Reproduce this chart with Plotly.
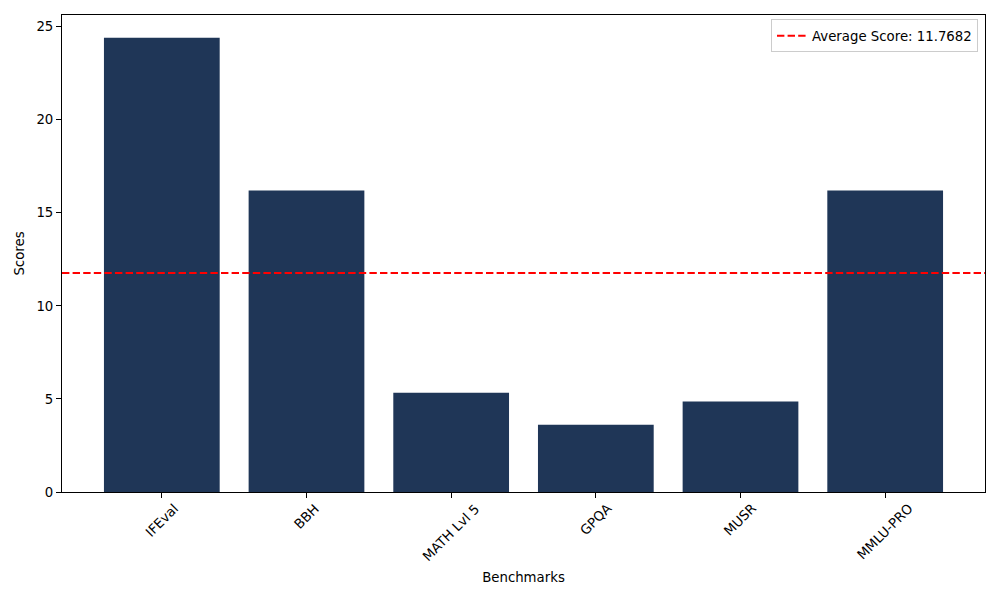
import plotly.graph_objects as go

benchmarks = ["IFEval", "BBH", "MATH Lvl 5", "GPQA", "MUSR", "MMLU-PRO"]
scores = [24.41, 16.20, 5.33, 3.61, 4.86, 16.20]
average_score = 11.7682
y_ticks = [0, 5, 10, 15, 20, 25]

FONT = "DejaVu Sans"
FS = 13.3

fig = go.Figure()
fig.add_trace(go.Bar(
    x=list(range(len(benchmarks))), y=scores,
    marker=dict(color="#1f3657", line=dict(width=0)),
    width=0.8, showlegend=False,
))

fig.add_shape(
    type="line", xref="paper", yref="y", x0=0, x1=1,
    y0=average_score, y1=average_score,
    line=dict(color="red", width=2, dash="7.4px,3.2px"),
    showlegend=True, name=f"Average Score: {average_score}",
)

for i, b in enumerate(benchmarks):
    fig.add_annotation(
        x=i, xref="x", y=0, yref="paper", text=b, showarrow=False,
        textangle=-45, xanchor="center", yanchor="top", yshift=-6,
        font=dict(family=FONT, size=FS, color="black"),
    )

n = len(benchmarks)
fig.update_layout(
    width=984, height=584,
    margin=dict(l=54, r=7, t=7, b=100, autoexpand=False),
    paper_bgcolor="white", plot_bgcolor="white",
    font=dict(family=FONT, size=FS, color="black"),
    bargap=0.2,
    xaxis=dict(
        range=[-0.69, n - 1 + 0.69],
        tickmode="array", tickvals=list(range(n)), ticktext=[""] * n,
        showticklabels=False,
        ticks="outside", ticklen=5, tickwidth=1, tickcolor="black",
        showline=True, linecolor="black", linewidth=1, mirror=True,
        showgrid=False, zeroline=False,
        title=dict(text="Benchmarks", standoff=75, font=dict(family=FONT, size=FS)),
    ),
    yaxis=dict(
        range=[0, max(scores) * 1.05],
        tickmode="array", tickvals=y_ticks, ticktext=[str(t) for t in y_ticks],
        ticks="outside", ticklen=5, tickwidth=1, tickcolor="black",
        showline=True, linecolor="black", linewidth=1, mirror=True,
        showgrid=False, zeroline=False,
        title=dict(text="Scores", standoff=8, font=dict(family=FONT, size=FS)),
    ),
    legend=dict(
        x=0.9924, y=0.9906, xanchor="right", yanchor="top",
        bgcolor="rgba(255,255,255,0.8)", bordercolor="#cccccc", borderwidth=1,
        font=dict(family=FONT, size=FS),
    ),
)

fig.write_html("out.html")
